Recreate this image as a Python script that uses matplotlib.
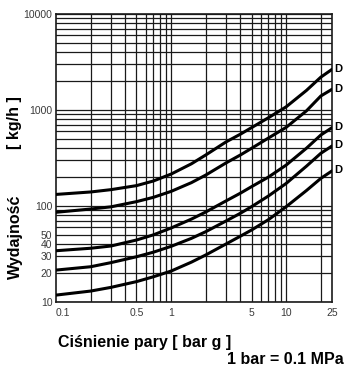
import matplotlib
matplotlib.use('Agg')
import matplotlib.pyplot as plt
from matplotlib.ticker import FixedLocator, NullFormatter, NullLocator

plt.rcParams['font.family'] = ['Liberation Sans', 'DejaVu Sans']

# pressure [bar g] and output [kg/h]
pressure = [0.1, 0.2, 0.3, 0.5, 0.7, 1, 1.5, 2, 3, 4, 5, 7, 10, 15, 20, 25]
curve_1 = [132, 140, 148, 163, 182, 215, 275, 340, 465, 560, 655, 830, 1080, 1600, 2200, 2650]
curve_2 = [86, 93, 98, 111, 123, 142, 175, 210, 281, 340, 399, 510, 660, 980, 1400, 1643]
curve_3 = [34.2, 36.3, 38.3, 44.2, 50, 59, 73, 86.6, 113, 136, 159, 200, 267, 400, 549, 654]
curve_4 = [21.5, 23.3, 25.7, 29.6, 33, 38, 46, 54, 69.8, 84, 98.4, 127, 172, 260, 354, 422]
curve_5 = [11.8, 13.0, 14.2, 16.3, 18.3, 21, 26, 30.9, 40.2, 48.5, 56.2, 72, 98.4, 145, 194, 232]
curve_names = ['D', 'D', 'D', 'D', 'D']

x_ticks = [0.1, 0.5, 1, 5, 10, 25]
x_ticklabels = ['0.1', '0.5', '1', '5', '10', '25']
y_ticks = [10, 20, 30, 40, 50, 100, 1000, 10000]
y_ticklabels = ['10', '20', '30', '40', '50', '100', '1000', '10000']

x_grid = [0.2, 0.3, 0.4, 0.5, 0.6, 0.7, 0.8, 0.9, 1, 2, 3, 4, 5, 6, 7, 8, 9, 10, 20]
y_grid = [m * 10 ** e for e in (1, 2, 3) for m in range(1, 10)] + [10000]

W, H = 345, 365
fig = plt.figure(figsize=(W / 100, H / 100), dpi=100)
ax = fig.add_axes([56 / W, 1 - 302 / H, (332 - 56) / W, (302 - 14) / H])
ax.set_xscale('log')
ax.set_yscale('log')
ax.set_xlim(0.1, 25)
ax.set_ylim(10, 10000)

for v in x_grid:
    ax.axvline(v, color='#1a1a1a', lw=0.9, zorder=1)
for v in y_grid:
    ax.axhline(v, color='#1a1a1a', lw=0.9, zorder=1)

curves = [curve_1, curve_2, curve_3, curve_4, curve_5]
for ys, name in zip(curves, curve_names):
    ax.plot(pressure, ys, color='black', lw=2.2, solid_capstyle='round', zorder=3)
    ax.annotate(name, (pressure[-1], ys[-1]), xytext=(1.5, 0.5), textcoords='offset points',
                fontsize=8, fontweight='bold', va='center', ha='left', annotation_clip=False)

ax.xaxis.set_major_locator(FixedLocator(x_ticks))
ax.set_xticklabels(x_ticklabels)
ax.xaxis.set_minor_locator(NullLocator())
ax.xaxis.set_minor_formatter(NullFormatter())
ax.yaxis.set_major_locator(FixedLocator(y_ticks))
ax.set_yticklabels(y_ticklabels)
ax.yaxis.set_minor_locator(NullLocator())
ax.yaxis.set_minor_formatter(NullFormatter())
ax.tick_params(length=0, labelsize=7.5, labelcolor='#3a3a3a')
ax.tick_params(axis='x', pad=4)
ax.tick_params(axis='y', pad=2.5)
ax.get_xticklabels()[0].set_horizontalalignment('left')

for s in ax.spines.values():
    s.set_linewidth(1.2)
    s.set_color('#1a1a1a')

fig.text(15 / W, 1 - 237 / H, 'Wydajność', rotation=90, fontsize=11.5, fontweight='bold',
         ha='center', va='center')
fig.text(15 / W, 1 - 123 / H, '[ kg/h ]', rotation=90, fontsize=11.5, fontweight='bold',
         ha='center', va='center')
fig.text(58 / W, 1 - 342 / H, 'Ciśnienie pary [ bar g ]', fontsize=11.5, fontweight='bold',
         ha='left', va='center')
fig.text(344 / W, 1 - 359 / H, '1 bar = 0.1 MPa', fontsize=11.5, fontweight='bold',
         ha='right', va='center')

fig.savefig('out.png', dpi=100)
